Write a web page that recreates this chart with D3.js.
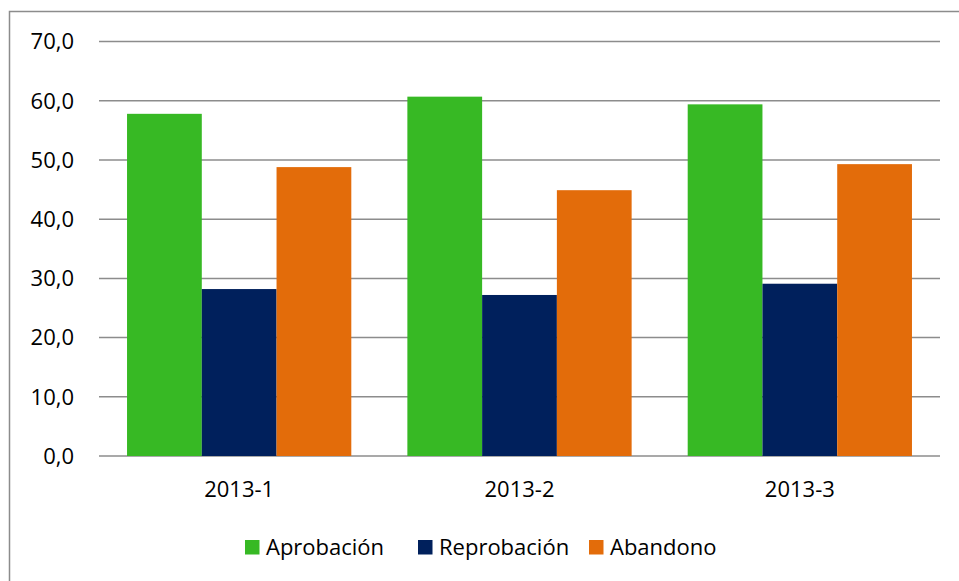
<!DOCTYPE html>
<html>
<head>
<meta charset="utf-8">
<script src="https://cdn.jsdelivr.net/npm/d3@7"></script>
<style>
  body { margin: 0; background: #fff; }
  text { font-family: "Open Sans", Lato, sans-serif; fill: #000; }
</style>
</head>
<body>
<script>
// data
var periods = ["2013-1", "2013-2", "2013-3"];
var seriesNames = ["Aprobación", "Reprobación", "Abandono"];
var aprobacion = [57.8, 60.7, 59.4];
var reprobacion = [28.2, 27.2, 29.1];
var abandono = [48.8, 44.9, 49.3];
var yTicks = [0, 10, 20, 30, 40, 50, 60, 70];

var seriesValues = [aprobacion, reprobacion, abandono];
var colors = ["#37b924", "#00205c", "#e36c0a"];

var width = 959, height = 581;
var margin = {left: 99, right: 19, top: 41.6, bottom: 125};
var fontSize = "22px";

var svg = d3.select("body").append("svg")
    .attr("width", width)
    .attr("height", height);

// outer chart border
svg.append("rect")
    .attr("x", 9.5).attr("y", 11.5)
    .attr("width", width + 10).attr("height", height + 10)
    .attr("fill", "none")
    .attr("stroke", "#8c8c8c")
    .attr("stroke-width", 1.5);

var x0 = d3.scaleBand()
    .domain(periods)
    .range([margin.left, width - margin.right])
    .paddingInner(0.2)
    .paddingOuter(0.1);

var x1 = d3.scaleBand()
    .domain(seriesNames)
    .range([0, x0.bandwidth()]);

var y = d3.scaleLinear()
    .domain([0, 70])
    .range([456, margin.top]);

// gridlines
svg.append("g").selectAll("line")
    .data(yTicks)
    .enter().append("line")
    .attr("x1", margin.left)
    .attr("x2", width - margin.right)
    .attr("y1", function(d) { return y(d); })
    .attr("y2", function(d) { return y(d); })
    .attr("stroke", "#8c8c8c")
    .attr("stroke-width", 1.5);

// y labels
svg.append("g").selectAll("text")
    .data(yTicks)
    .enter().append("text")
    .attr("x", 74)
    .attr("y", function(d) { return y(d); })
    .attr("dy", "0.35em")
    .attr("text-anchor", "end")
    .style("font-size", fontSize)
    .text(function(d) { return d3.format(".1f")(d).replace(".", ","); });

// bars
var groups = svg.append("g").selectAll("g")
    .data(periods)
    .enter().append("g")
    .attr("transform", function(d) { return "translate(" + x0(d) + ",0)"; });

groups.selectAll("rect")
    .data(function(p, i) {
      return seriesNames.map(function(s, j) { return {name: s, value: seriesValues[j][i], k: j}; });
    })
    .enter().append("rect")
    .attr("x", function(d) { return x1(d.name); })
    .attr("width", x1.bandwidth())
    .attr("y", function(d) { return y(d.value); })
    .attr("height", function(d) { return y(0) - y(d.value); })
    .attr("fill", function(d) { return colors[d.k]; });

// x labels
svg.append("g").selectAll("text")
    .data(periods)
    .enter().append("text")
    .attr("x", function(d) { return x0(d) + x0.bandwidth() / 2; })
    .attr("y", 497)
    .attr("text-anchor", "middle")
    .style("font-size", fontSize)
    .text(function(d) { return d; });

// legend
var legendX = [245, 418, 589];
var legend = svg.append("g").selectAll("g")
    .data(seriesNames)
    .enter().append("g")
    .attr("transform", function(d, i) { return "translate(" + legendX[i] + ",540)"; });

legend.append("rect")
    .attr("width", 14.5).attr("height", 14.5)
    .attr("fill", function(d, i) { return colors[i]; });

legend.append("text")
    .attr("x", 21)
    .attr("y", 15)
    .style("font-size", fontSize)
    .text(function(d) { return d; });
</script>
</body>
</html>
